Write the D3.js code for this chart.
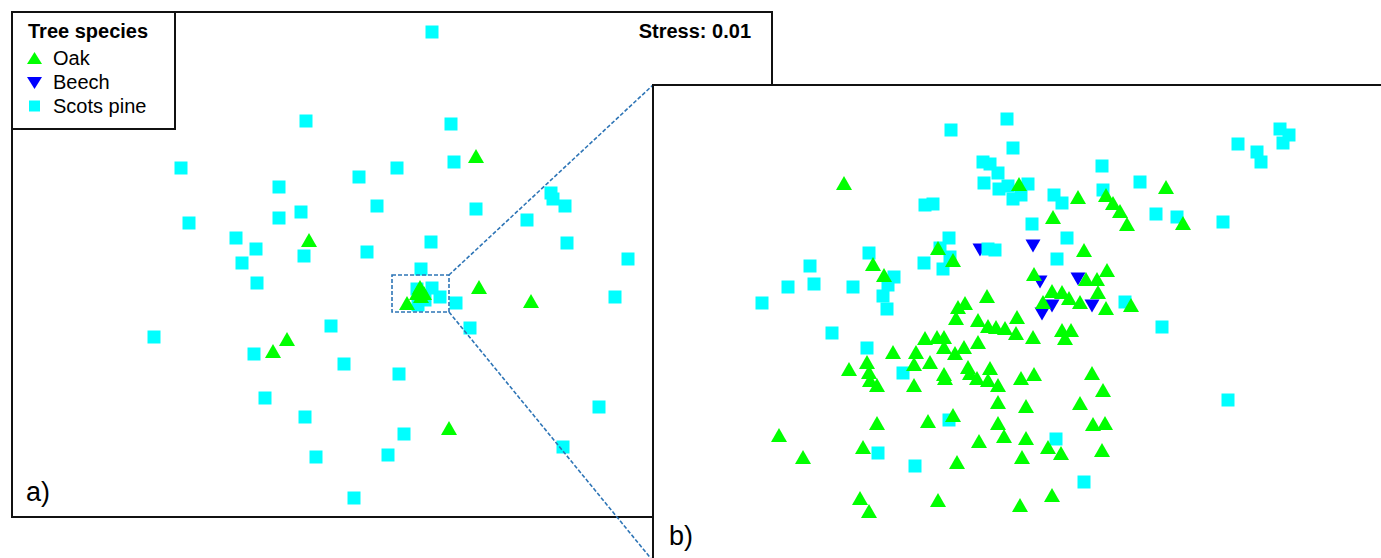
<!DOCTYPE html>
<html>
<head>
<meta charset="utf-8">
<script src="https://cdn.jsdelivr.net/npm/d3@7"></script>
<style>
  html, body { margin: 0; padding: 0; background: #fff; }
  svg { display: block; font-family: "Liberation Sans", Arial, sans-serif; }
</style>
</head>
<body>
<svg id="chart" width="1381" height="558"></svg>
<script>
// ---------------- DATA (NMDS scores, arbitrary units) ----------------
const species = ["Oak", "Beech", "Scots pine"];
const legendTitle = "Tree species";
const stressLabel = "Stress: 0.01";
const panelLabels = ["a)", "b)"];

// Panel a: full ordination
const aDomainX = [0, 7.60];
const aDomainY = [0, 5.05];
const aPine = [
  [4.20,4.85],[2.94,3.96],[4.39,3.93],[1.69,3.49],[3.47,3.40],[2.67,3.30],[3.85,3.49],[4.42,3.55],
  [3.65,3.11],[2.89,3.05],[2.67,2.99],[1.77,2.94],[4.64,3.08],[5.39,3.24],[5.41,3.18],[5.53,3.11],
  [5.15,2.97],[4.19,2.75],[5.55,2.74],[2.24,2.79],[2.44,2.68],[2.92,2.61],[2.30,2.54],[3.55,2.65],
  [6.16,2.58],[2.45,2.34],[4.09,2.48],[6.03,2.20],[4.44,2.14],[4.58,1.89],[1.42,1.80],[3.19,1.91],
  [2.42,1.63],[3.32,1.53],[3.87,1.43],[2.53,1.19],[2.93,1.00],[3.04,0.60],[3.76,0.62],[3.92,0.83],
  [3.42,0.19],[5.87,1.10],[5.51,0.70],
  [4.05,2.28],[4.20,2.29],[4.28,2.20],[4.06,2.12],[4.13,2.17]
];
const aOak = [
  [4.64,3.61],[2.97,2.77],[4.67,2.30],[5.19,2.16],[2.75,1.78],[2.61,1.66],[4.37,0.89],[3.95,2.14],
  [4.05,2.24],[4.12,2.24],[4.08,2.30],[4.09,2.21]
];
const aBeech = [];
// zoomed window shown in panel b (panel-a units)
const zoomBox = { x0: 3.80, x1: 4.37, y0: 2.05, y1: 2.42 };

// Panel b: zoom into the central cluster
const bDomainX = [0, 7.28];
const bDomainY = [0, 4.76];
const bPine = [
  [3.54,4.42],[2.98,4.31],[3.60,4.13],[3.30,3.99],[3.37,3.97],[3.45,3.88],[3.31,3.78],[3.46,3.72],
  [3.55,3.75],[3.60,3.62],[3.68,3.66],[3.75,3.77],[2.72,3.56],[2.80,3.57],[2.96,3.23],[2.87,3.13],
  [2.97,3.04],[2.71,2.98],[2.90,2.92],[3.35,3.12],[3.42,3.11],[2.16,3.08],[1.57,2.95],[1.35,2.74],
  [1.61,2.77],[2.00,2.74],[2.41,2.84],[2.35,2.76],[2.30,2.65],[2.34,2.52],[1.09,2.58],[1.79,2.28],
  [2.14,2.13],[2.50,1.88],[2.96,1.41],[2.25,1.08],[2.62,0.95],[4.49,3.95],[4.87,3.79],[5.85,4.17],
  [6.04,4.09],[6.08,3.99],[6.27,4.32],[6.36,4.26],[6.30,4.18],[4.01,3.66],[4.09,3.58],[4.50,3.71],
  [3.79,3.37],[4.14,3.23],[4.04,3.02],[5.03,3.47],[5.24,3.44],[5.70,3.39],[4.72,2.59],[5.09,2.34],
  [5.75,1.61],[4.03,1.22],[4.31,0.79]
];
const bOak = [
  [1.91,3.78],[3.66,3.77],[4.25,3.64],[4.53,3.66],[4.60,3.58],[4.67,3.50],[4.74,3.37],[5.13,3.74],
  [5.30,3.38],[4.00,3.44],[4.31,3.11],[4.54,2.91],[3.81,2.87],[4.33,2.82],[4.44,2.82],[4.45,2.69],
  [3.99,2.70],[4.09,2.69],[4.16,2.63],[4.27,2.59],[3.90,2.59],[4.53,2.53],[4.78,2.56],[3.64,2.44],
  [2.20,2.97],[2.31,2.86],[2.85,3.13],[3.00,3.01],[3.34,2.65],[3.12,2.58],[3.05,2.54],[3.03,2.43],
  [3.25,2.41],[3.35,2.35],[3.43,2.34],[3.52,2.33],[3.63,2.28],[3.80,2.24],[4.09,2.31],[4.18,2.31],
  [4.12,2.23],[2.72,2.23],[2.84,2.24],[2.91,2.24],[2.91,2.14],[3.02,2.08],[3.11,2.14],[3.25,2.19],
  [1.96,1.92],[2.14,1.99],[2.16,1.89],[2.17,1.81],[2.24,1.76],[2.40,2.09],[2.63,2.09],[2.61,1.97],
  [2.77,1.99],[2.61,1.76],[2.91,1.87],[2.92,1.83],[3.15,1.94],[3.17,1.88],[3.24,1.83],[3.37,1.93],
  [3.35,1.81],[3.45,1.76],[3.45,1.59],[3.68,1.83],[3.81,1.87],[2.24,1.38],[2.10,1.14],[2.75,1.40],
  [3.00,1.46],[3.45,1.38],[3.51,1.25],[3.26,1.20],[3.04,0.99],[1.26,1.26],[1.50,1.04],[2.07,0.63],
  [2.16,0.50],[2.85,0.61],[3.67,0.56],[4.39,1.88],[4.50,1.71],[4.27,1.58],[3.73,1.55],[3.73,1.23],
  [3.95,1.14],[4.08,1.08],[4.40,1.37],[4.52,1.38],[4.49,1.11],[3.69,1.04],[3.99,0.66]
];
const bBeech = [
  [3.27,3.11],[3.80,3.15],[3.87,2.79],[4.25,2.82],[3.99,2.55],[4.39,2.55],[3.89,2.47]
];

// ---------------- STYLE ----------------
const colors = { "Oak": "#00ff00", "Beech": "#0000ff", "Scots pine": "#00ffff" };
const dashColor = "#2e75b6";
const frameColor = "#111";

// custom marker shapes centred on their bounding box
function triUp(w, h) { return `M0,${-h/2}L${w/2},${h/2}L${-w/2},${h/2}Z`; }
function triDown(w, h) { return `M0,${h/2}L${w/2},${-h/2}L${-w/2},${-h/2}Z`; }
function square(s) { return `M${-s/2},${-s/2}h${s}v${s}h${-s}Z`; }
const shapes = {
  "Oak": triUp(16, 14),
  "Beech": triDown(15, 13),
  "Scots pine": square(13)
};

const svg = d3.select("#chart");

// ---------------- PANEL A ----------------
const A = { left: 12, top: 12, width: 760, height: 505 };
const axA = d3.scaleLinear().domain(aDomainX).range([A.left, A.left + A.width]);
const ayA = d3.scaleLinear().domain(aDomainY).range([A.top + A.height, A.top]);

svg.append("rect")
  .attr("x", A.left).attr("y", A.top).attr("width", A.width).attr("height", A.height)
  .attr("fill", "#fff").attr("stroke", frameColor).attr("stroke-width", 2);

const gA = svg.append("g");
function drawPoints(g, data, sp, sx, sy) {
  g.selectAll(null).data(data).enter().append("path")
    .attr("d", shapes[sp])
    .attr("transform", d => `translate(${sx(d[0])},${sy(d[1])})`)
    .attr("fill", colors[sp]);
}
drawPoints(gA, aBeech, "Beech", axA, ayA);
drawPoints(gA, aPine, "Scots pine", axA, ayA);
drawPoints(gA, aOak, "Oak", axA, ayA);

// zoom box
const zx0 = axA(zoomBox.x0), zx1 = axA(zoomBox.x1), zy0 = ayA(zoomBox.y1), zy1 = ayA(zoomBox.y0);
svg.append("rect")
  .attr("x", zx0).attr("y", zy0).attr("width", zx1 - zx0).attr("height", zy1 - zy0)
  .attr("fill", "none").attr("stroke", dashColor).attr("stroke-width", 1.6)
  .attr("stroke-dasharray", "4,2");

// legend
const leg = svg.append("g");
leg.append("rect").attr("x", 12).attr("y", 12).attr("width", 163).attr("height", 117)
  .attr("fill", "#fff").attr("stroke", frameColor).attr("stroke-width", 2);
leg.append("text").attr("x", 28).attr("y", 38).attr("font-size", 20).attr("font-weight", "bold")
  .attr("fill", "#000").text(legendTitle);
const legShapes = { "Oak": triUp(15, 12), "Beech": triDown(15, 12), "Scots pine": square(11) };
const legY = d3.scalePoint().domain(species).range([58, 106]);
species.forEach((sp, i) => {
  leg.append("path").attr("d", legShapes[sp])
    .attr("transform", `translate(34.5,${legY(sp) - (sp === "Beech" ? -1 : 0)})`)
    .attr("fill", colors[sp]);
  leg.append("text").attr("x", 53).attr("y", legY(sp) + 7)
    .attr("font-size", 20).attr("fill", "#000").text(sp);
});

svg.append("text").attr("x", 751).attr("y", 38).attr("text-anchor", "end")
  .attr("font-size", 20).attr("font-weight", "bold").attr("fill", "#000").text(stressLabel);

svg.append("text").attr("x", 26).attr("y", 501).attr("font-size", 27)
  .attr("fill", "#000").text(panelLabels[0]);

// ---------------- PANEL B ----------------
const B = { left: 653, top: 85, width: 728, height: 476 };
const bx = d3.scaleLinear().domain(bDomainX).range([B.left, B.left + B.width]);
const by = d3.scaleLinear().domain(bDomainY).range([B.top + B.height, B.top]);

// connector lines from zoom box to panel b corners
svg.append("line").attr("x1", zx1).attr("y1", zy0).attr("x2", B.left).attr("y2", B.top)
  .attr("stroke", dashColor).attr("stroke-width", 1.6).attr("stroke-dasharray", "4,2");
svg.append("line").attr("x1", zx1).attr("y1", zy1).attr("x2", B.left).attr("y2", B.top + B.height)
  .attr("stroke", dashColor).attr("stroke-width", 1.6).attr("stroke-dasharray", "4,2");

svg.append("rect")
  .attr("x", B.left).attr("y", B.top).attr("width", B.width + 40).attr("height", B.height + 40)
  .attr("fill", "#fff").attr("stroke", frameColor).attr("stroke-width", 2);

const gB = svg.append("g");
drawPoints(gB, bBeech, "Beech", bx, by);
drawPoints(gB, bPine, "Scots pine", bx, by);
drawPoints(gB, bOak, "Oak", bx, by);

svg.append("text").attr("x", 669).attr("y", 545).attr("font-size", 27)
  .attr("fill", "#000").text(panelLabels[1]);
</script>
</body>
</html>
